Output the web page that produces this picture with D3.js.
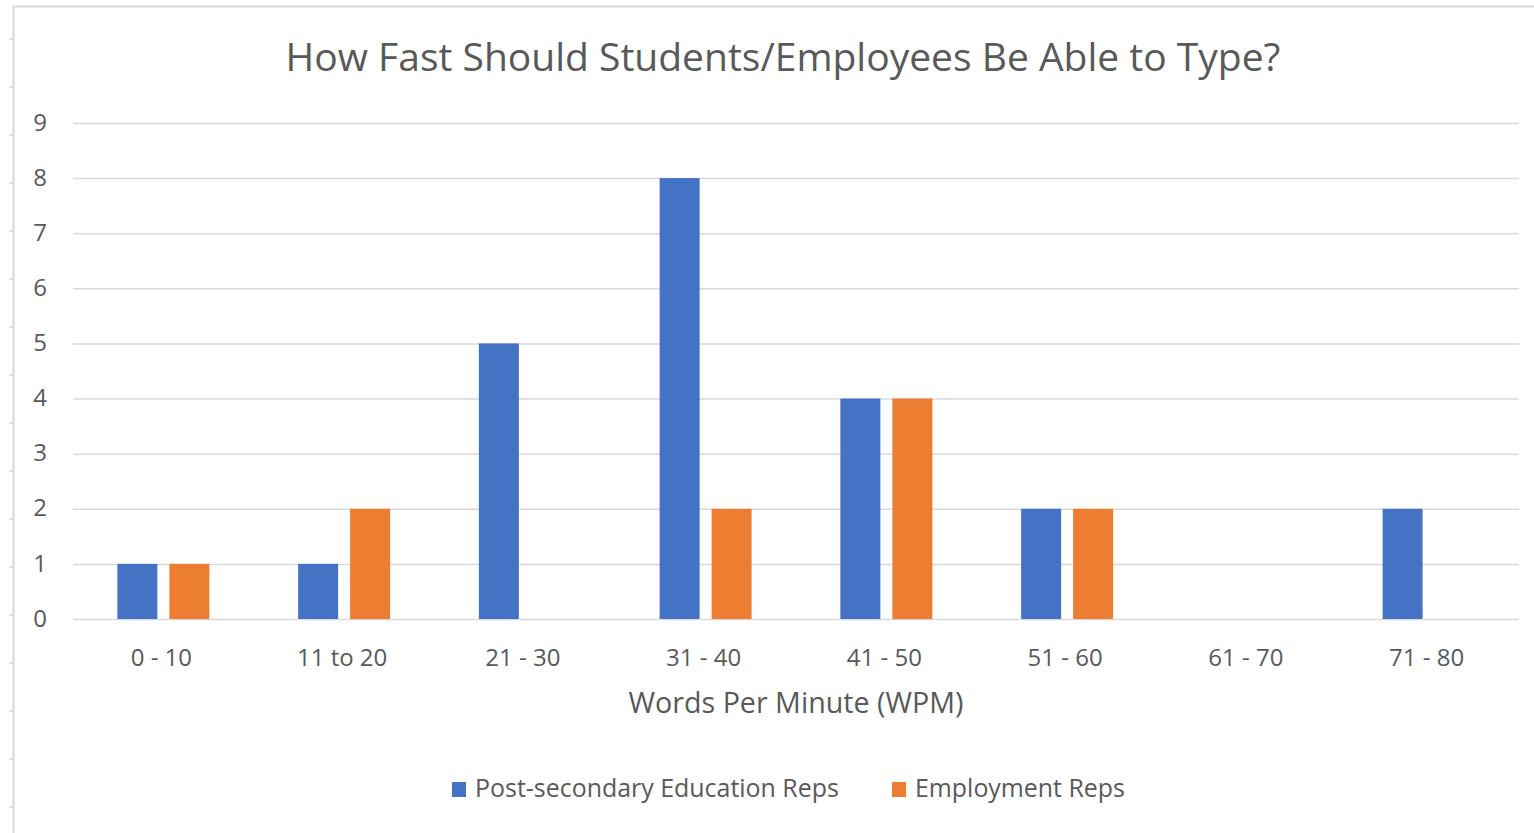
<!DOCTYPE html>
<html>
<head>
<meta charset="utf-8">
<script src="https://cdn.jsdelivr.net/npm/d3@7"></script>
<style>
  html, body { margin: 0; padding: 0; background: #fff; }
  svg { display: block; }
  text { font-family: "Open Sans", "Noto Sans", sans-serif; fill: #595959; }
</style>
</head>
<body>
<svg id="chart" width="1534" height="833"></svg>
<script>
const categories = ["0 - 10", "11 to 20", "21 - 30", "31 - 40", "41 - 50", "51 - 60", "61 - 70", "71 - 80"];
const seriesNames = ["Post-secondary Education Reps", "Employment Reps"];
const postSecondary = [1, 1, 5, 8, 4, 2, 0, 2];
const employment = [1, 2, 0, 2, 4, 2, 0, 0];
const yTicks = [0, 1, 2, 3, 4, 5, 6, 7, 8, 9];
const titleText = "How Fast Should Students/Employees Be Able to Type?";
const xAxisTitle = "Words Per Minute (WPM)";

const colors = ["#4472C4", "#ED7D31"];
const seriesValues = [postSecondary, employment];

const svg = d3.select("#chart");

function fitText(sel, target) {
  const size = parseFloat(sel.style("font-size"));
  const w = sel.node().getComputedTextLength();
  if (w > 0) sel.style("font-size", (size * target / w) + "px");
  return sel;
}

// frame (screenshot edges)
svg.append("line").attr("x1", 13).attr("x2", 1534).attr("y1", 6.5).attr("y2", 6.5)
  .attr("stroke", "#d9d9d9").attr("stroke-width", 2);
svg.append("line").attr("x1", 13.5).attr("x2", 13.5).attr("y1", 6).attr("y2", 833)
  .attr("stroke", "#d9d9d9").attr("stroke-width", 2);
svg.append("g").selectAll("line").data(d3.range(0, 17)).join("line")
  .attr("x1", 9).attr("x2", 13).attr("y1", d => 39 + 48 * d).attr("y2", d => 39 + 48 * d)
  .attr("stroke", "#d9d9d9").attr("stroke-width", 1.5);

const plotLeft = 73, plotRight = 1519, plotTop = 123, plotBottom = 619;

const x0 = d3.scaleBand().domain(categories).range([plotLeft, plotRight]).paddingInner(0).paddingOuter(0);
const x1 = d3.scaleBand().domain(seriesNames).range([-46, 46]).paddingInner(12 / 52).paddingOuter(0);
const y = d3.scaleLinear().domain([0, 9]).range([plotBottom, plotTop]);

// gridlines + y labels
const yAxis = svg.append("g").attr("transform", `translate(${plotLeft},0)`)
  .call(d3.axisLeft(y).tickValues(yTicks).tickSize(-(plotRight - plotLeft)).tickPadding(26).tickFormat(d3.format("d")));
yAxis.select(".domain").remove();
yAxis.selectAll(".tick line").attr("stroke", "#d9d9d9").attr("stroke-width", 1.5);
yAxis.selectAll(".tick text").attr("x", 47 - plotLeft).attr("dy", "0.3em")
  .style("font-size", "24px").style("font-family", "Open Sans").attr("fill", "#595959");

// bars
const groups = svg.append("g").selectAll("g").data(categories).join("g")
  .attr("transform", d => `translate(${x0(d) + x0.bandwidth() / 2},0)`);
groups.selectAll("rect")
  .data((d, i) => seriesNames.map((s, j) => ({ s, j, v: seriesValues[j][i] })))
  .join("rect")
  .filter(d => d.v > 0)
  .attr("x", d => x1(d.s))
  .attr("width", x1.bandwidth())
  .attr("y", d => y(d.v))
  .attr("height", d => y(0) - y(d.v))
  .attr("fill", d => colors[d.j]);

// x axis labels
const xAxis = svg.append("g").attr("transform", `translate(0,${plotBottom})`)
  .call(d3.axisBottom(x0).tickSize(0));
xAxis.select(".domain").remove();
xAxis.selectAll(".tick text").attr("x", -2).attr("y", 47).attr("dy", 0)
  .style("font-size", "24px").style("font-family", "Open Sans").attr("fill", "#595959");

// title
const title = svg.append("text").attr("x", 783).attr("y", 71).attr("text-anchor", "middle")
  .style("font-size", "36px").text(titleText);
fitText(title, 995);

// axis title
const xt = svg.append("text").attr("x", 796).attr("y", 713).attr("text-anchor", "middle")
  .style("font-size", "24px").text(xAxisTitle);
fitText(xt, 335);

// legend
const legendItems = [
  { name: seriesNames[0], color: colors[0], sx: 452, tx: 475, w: 364 },
  { name: seriesNames[1], color: colors[1], sx: 892, tx: 915, w: 210 }
];
const lg = svg.append("g");
legendItems.forEach(it => {
  lg.append("rect").attr("x", it.sx).attr("y", 782).attr("width", 14).attr("height", 15).attr("fill", it.color);
  const t = lg.append("text").attr("x", it.tx).attr("y", 797).style("font-size", "24px").text(it.name);
  fitText(t, it.w);
});
</script>
</body>
</html>
